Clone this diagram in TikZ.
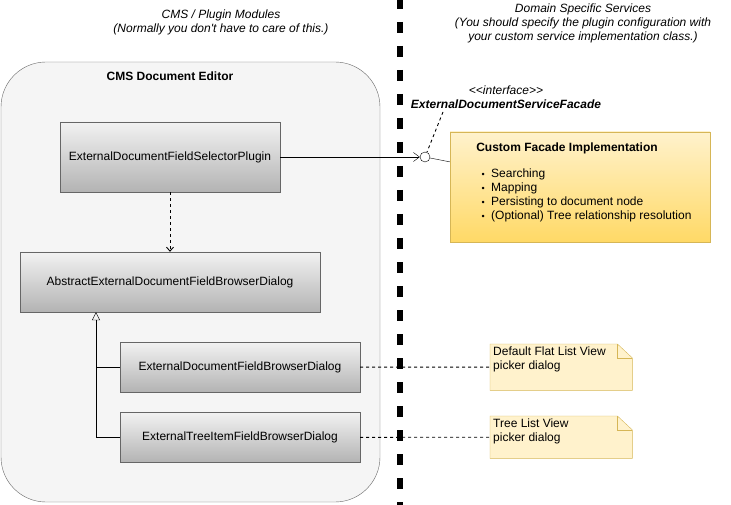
\documentclass[tikz,border=0pt]{standalone}
\usepackage{fontspec}
\setmainfont{Liberation Sans}
\usetikzlibrary{arrows.meta,positioning,calc}

\definecolor{clsline}{HTML}{666666}
\definecolor{clstop}{HTML}{F2F2F2}
\definecolor{clsbot}{HTML}{B3B3B3}
\definecolor{edfill}{HTML}{F5F5F5}
\definecolor{notefill}{HTML}{FFF2CC}
\definecolor{noteline}{HTML}{D6B656}
\definecolor{facadebot}{HTML}{FFD966}

\begin{document}
\begin{tikzpicture}[x=1pt, y=-1pt, >=latex,
    every node/.style={font=\fontsize{12}{14}\selectfont},
    cls/.style={draw=clsline, top color=clstop, bottom color=clsbot, inner sep=0pt},
    editor/.style={draw=clsline, fill=edfill, rounded corners=45pt},
    facadebox/.style={draw=noteline, top color=notefill, bottom color=facadebot},
    notebox/.style={inner sep=0pt},
    link/.style={dashed, line width=0.9pt},
    divider/.style={line width=5.5pt, dash pattern=on 11pt off 13pt},
    hdr/.style={align=center, font=\fontsize{12}{14}\selectfont\itshape}]
    \useasboundingbox (0,0) rectangle (731,505);

    % left side
    \node[editor, minimum width=379pt, minimum height=440pt] (editor) at (190.5,282) {};
    \node[font=\fontsize{12}{14}\selectfont\bfseries] (edtitle) at (170,76) {CMS Document Editor};
    \node[hdr] (lefthdr) at (221,22) {CMS / Plugin Modules\\(Normally you don\textquotesingle t have to care of this.)};

    \node[cls, minimum width=220pt, minimum height=70pt] (selplug) at (170,157) {ExternalDocumentFieldSelectorPlugin};
    \node[cls, minimum width=300pt, minimum height=60pt] (absdlg) at (170,282) {AbstractExternalDocumentFieldBrowserDialog};
    \node[cls, minimum width=240pt, minimum height=50pt] (flatdlg) at (240,367) {ExternalDocumentFieldBrowserDialog};
    \node[cls, minimum width=240pt, minimum height=50pt] (treedlg) [below=20pt of flatdlg] {ExternalTreeItemFieldBrowserDialog};

    \draw[link, -{Straight Barb[length=4pt, width=7pt]}] (selplug) -- (absdlg);
    \coordinate (genbar) at ([xshift=-74pt]absdlg.south);
    \draw[-{Triangle[open, length=8pt, width=8pt]}] (treedlg.west) -| (genbar);
    \draw (flatdlg.west) -- (flatdlg.west -| genbar);

    % divider
    \coordinate (divtop) at (400,-2);
    \coordinate (divbot) at (400,505);
    \draw[divider] (divtop) -- (divbot);

    % right side
    \node[hdr] (righthdr) at (583,23) {Domain Specific Services\\(You should specify the plugin configuration with\\your custom service implementation class.)};

    \node[facadebox, minimum width=260pt, minimum height=110pt] (facade) at (580,187) {};
    \node[font=\fontsize{12}{14}\selectfont\bfseries] (facadettl) at (567,148) {Custom Facade Implementation};
    \foreach \t [count=\i] in {Searching, Mapping, Persisting to document node, (Optional) Tree relationship resolution}
        \node[anchor=base west, inner sep=0pt] (item\i) at (475,164+14*\i) {\makebox[16pt][c]{\small\textbullet}\t};

    \node[draw, circle, fill=white, minimum size=10pt, inner sep=0pt] (lollipop) at (425,157) {};
    \node[align=center] (ifacelbl) at (506,97) {\textit{{<}{<}interface{>}{>}}\\\textbf{\textit{ExternalDocumentServiceFacade}}};
    \coordinate (ifacetip) at (443,112);
    \draw[-{Straight Barb[length=6pt, width=9pt]}] (selplug) -- (lollipop);
    \draw (lollipop) -- (facade);
    \draw[link] (ifacetip) -- (lollipop);

    % notes
    \node[notebox, minimum width=142pt, minimum height=46pt, anchor=north west] (flatnote) at (490,344) {};
    \node[notebox, minimum width=142pt, minimum height=42pt, anchor=north west] (treenote) at (490,416) {};
    \foreach \n in {flatnote, treenote} {
        \filldraw[draw=noteline, fill=notefill] (\n.north west) -- ([xshift=-15pt]\n.north east)
            -- ([yshift=-14pt]\n.north east) -- (\n.south east) -- (\n.south west) -- cycle;
        \draw[noteline] ([xshift=-15pt]\n.north east) |- ([yshift=-14pt]\n.north east);
    }
    \node[anchor=north west, align=left, inner sep=3pt] (flattext) at (flatnote.north west) {Default Flat List View\\picker dialog};
    \node[anchor=north west, align=left, inner sep=3pt] (treetext) at (treenote.north west) {Tree List View\\picker dialog};
    \draw[link] (flatdlg) -- (flatnote);
    \draw[link] (treedlg) -- (treenote);
\end{tikzpicture}
\end{document}
